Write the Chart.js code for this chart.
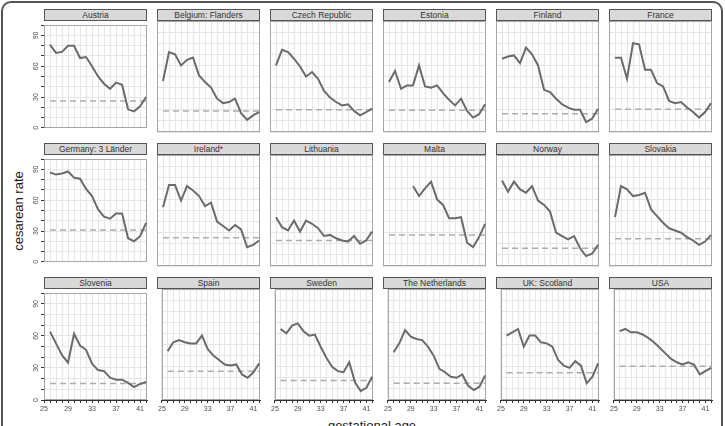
<!DOCTYPE html>
<html>
<head>
<meta charset="utf-8">
<script src="https://cdn.jsdelivr.net/npm/chart.js@4.4.1/dist/chart.umd.min.js"></script>
<style>
  body { margin: 0; background: #fff; font-family: "Liberation Sans", Arial, sans-serif; }
  #fig { position: relative; width: 725px; height: 426px; overflow: hidden; }
  .frame { position: absolute; left: 1px; top: 1px; width: 722px; height: 470px; border: 2px solid #555; border-radius: 10px; box-sizing: border-box; }
  .strip { position: absolute; height: 12px; background: #d9d9d9; border: 1px solid #555; box-sizing: border-box;
           font-size: 8.5px; line-height: 10px; text-align: center; color: #333; white-space: nowrap; }
  canvas { position: absolute; }
  .lab { position: absolute; font-size: 13px; color: #1a1a1a; white-space: nowrap; }
</style>
</head>
<body>
<div id="fig">
  <div class="frame"></div>
  <div class="lab" style="left:18px;top:211px;transform:translate(-50%,-50%) rotate(-90deg);">cesarean rate</div>
  <div class="lab" style="left:372px;top:425px;transform:translate(-50%,-50%);">gestational age</div>
</div>
<script>
// gestational weeks and tick labels
const weeks = [26, 27, 28, 29, 30, 31, 32, 33, 34, 35, 36, 37, 38, 39, 40, 41, 42];
const xTickLabels = [25, 29, 33, 37, 41];
const yTickLabels = [0, 30, 60, 90];

const countries = ['Austria', 'Belgium: Flanders', 'Czech Republic', 'Estonia', 'Finland', 'France',
  'Germany: 3 Länder', 'Ireland*', 'Lithuania', 'Malta', 'Norway', 'Slovakia',
  'Slovenia', 'Spain', 'Sweden', 'The Netherlands', 'UK: Scotland', 'USA'];

// cesarean rate by week (%)
const austria   = [81, 73, 74, 80, 80, 68, 69, 60, 50, 43, 38, 44, 42, 18, 16, 21, 30];
const flanders  = [46, 72, 70, 60, 65, 67, 51, 45, 40, 30, 26, 27, 30, 17, 11, 15, 18];
const czech     = [60, 74, 72, 66, 59, 50, 54, 48, 37, 31, 27, 24, 25, 19, 15, 18, 21];
const estonia   = [45, 55, 39, 42, 42, 60, 41, 40, 42, 35, 29, 24, 30, 19, 13, 16, 25];
const finland   = [66, 68, 69, 62, 76, 70, 60, 38, 36, 30, 25, 22, 20, 20, 9, 12, 21];
const france    = [67, 67, 48, 80, 79, 56, 56, 44, 41, 28, 26, 27, 22, 18, 13, 18, 26];
const germany   = [87, 85, 86, 88, 82, 81, 71, 64, 51, 44, 42, 47, 47, 23, 20, 25, 38];
const ireland   = [53, 73, 73, 59, 72, 68, 63, 54, 57, 40, 36, 32, 37, 33, 17, 19, 23];
const lithuania = [44, 35, 32, 41, 31, 41, 38, 34, 27, 28, 25, 23, 22, 27, 20, 23, 31];
const malta     = [null, null, null, null, 72, 63, 70, 76, 60, 55, 43, 43, 44, 21, 17, 26, 38];
const norway    = [77, 67, 76, 69, 66, 72, 59, 55, 49, 30, 27, 24, 27, 16, 9, 11, 19];
const slovakia  = [44, 72, 69, 63, 64, 66, 51, 45, 39, 34, 32, 30, 26, 23, 19, 22, 28];
const slovenia  = [64, 53, 42, 35, 62, 51, 47, 34, 28, 27, 21, 19, 19, 16, 12, 15, 17];
const spain     = [44, 52, 54, 52, 51, 51, 58, 46, 40, 36, 32, 31, 32, 23, 20, 25, 33];
const sweden    = [64, 60, 67, 69, 62, 58, 59, 48, 38, 30, 26, 25, 34, 16, 8, 11, 21];
const netherlands = [43, 51, 63, 57, 55, 54, 48, 40, 28, 25, 21, 20, 23, 13, 9, 12, 22];
const scotland  = [58, 61, 64, 48, 58, 58, 52, 51, 48, 36, 31, 29, 35, 31, 15, 21, 33];
const usa       = [62, 64, 61, 61, 59, 56, 52, 47, 42, 37, 34, 32, 34, 32, 23, 26, 29];

// overall rate (dashed reference)
const overall = [26, 19, 20, 19.5, 16.5, 20.5, 31, 25.5, 23, 28, 16, 24.5, 15.5, 26, 17.5, 15, 24.5, 30.5];

const rates = [austria, flanders, czech, estonia, finland, france, germany, ireland, lithuania, malta,
  norway, slovakia, slovenia, spain, sweden, netherlands, scotland, usa];

const plotLefts = [44, 157, 270, 383, 496, 609];
const plotTops = [21, 155, 289];
const PW = 103, PH = 111;

const tickFont = { family: '"Liberation Sans", Arial, sans-serif', size: 7 };

const panelBox = {
  id: 'panelBox',
  beforeDatasetsDraw(chart) {
    const { ctx, chartArea: a } = chart;
    ctx.save();
    ctx.strokeStyle = '#a6a6a6';
    ctx.lineWidth = 1;
    ctx.strokeRect(Math.round(a.left) + 0.5, Math.round(a.top) + 0.5,
      Math.round(a.right - a.left) - 1, Math.round(a.bottom - a.top) - 1);
    ctx.restore();
  }
};

const fig = document.getElementById('fig');

countries.forEach((name, i) => {
  const r = Math.floor(i / 6), c = i % 6;
  const isLeft = c === 0, isBottom = r === 2;
  const yW = isLeft ? 22 : 1, xH = isBottom ? 18 : 1;
  const px = plotLefts[c], py = plotTops[r];

  const strip = document.createElement('div');
  strip.className = 'strip';
  strip.style.left = px + 'px';
  strip.style.top = (py - 12) + 'px';
  strip.style.width = PW + 'px';
  strip.textContent = name;
  fig.appendChild(strip);

  const cv = document.createElement('canvas');
  cv.width = yW + PW + 2;
  cv.height = 1 + PH + xH;
  cv.style.left = (px - yW) + 'px';
  cv.style.top = (py - 1) + 'px';
  fig.appendChild(cv);

  new Chart(cv, {
    type: 'line',
    data: {
      datasets: [{
        data: weeks.map((w, k) => ({ x: w, y: rates[i][k] })),
        borderColor: '#6b6b6b',
        borderWidth: 2,
        pointRadius: 0,
        tension: 0,
        spanGaps: false
      }, {
        data: [{ x: weeks[0], y: overall[i] }, { x: weeks[weeks.length - 1], y: overall[i] }],
        borderColor: '#adadad',
        borderWidth: 1.5,
        borderDash: [6, 4],
        pointRadius: 0
      }]
    },
    options: {
      responsive: false,
      animation: false,
      events: [],
      layout: { padding: { top: 1, right: 2, left: 0, bottom: 0 } },
      plugins: { legend: { display: false }, tooltip: { enabled: false } },
      scales: {
        x: {
          type: 'linear', min: 25, max: 42.15,
          afterFit: s => { s.height = xH; },
          ticks: {
            display: isBottom, stepSize: 1, includeBounds: false, autoSkip: false,
            maxRotation: 0, minRotation: 0, padding: 2, font: tickFont, color: '#4d4d4d',
            callback: v => xTickLabels.includes(v) ? String(v) : ''
          },
          grid: { color: '#e6e6e6', drawTicks: isBottom, tickLength: 3, tickColor: '#333' },
          border: { display: isBottom, color: '#333' }
        },
        y: {
          min: 0, max: 100,
          afterFit: s => { s.width = yW; },
          ticks: {
            display: isLeft, stepSize: 10, autoSkip: false, includeBounds: false,
            minRotation: 90, maxRotation: 90, crossAlign: 'center', padding: 1,
            font: tickFont, color: '#4d4d4d',
            callback: v => yTickLabels.includes(v) ? String(v) : ''
          },
          grid: { color: '#e6e6e6', drawTicks: isLeft, tickLength: 3, tickColor: '#333' },
          border: { display: isLeft, color: '#333' }
        }
      }
    },
    plugins: [panelBox]
  });
});
</script>
</body>
</html>
